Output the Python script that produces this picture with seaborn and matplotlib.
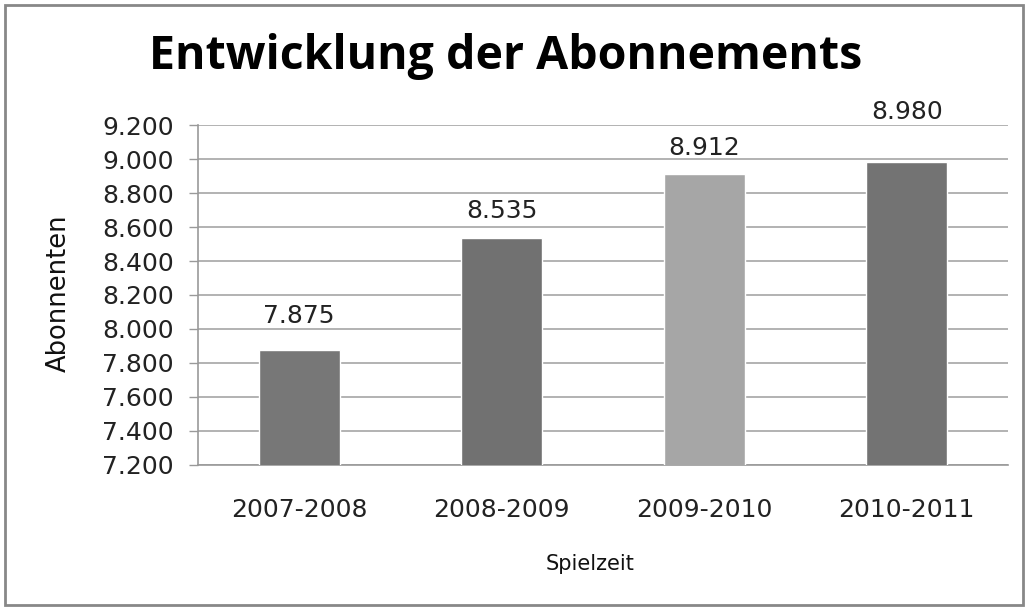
import matplotlib.pyplot as plt
import matplotlib.patches as mpatches
import seaborn as sns
import pandas as pd

# Daten
spielzeiten = ["2007-2008", "2008-2009", "2009-2010", "2010-2011"]
abonnenten = [7875, 8535, 8912, 8980]
balken_farben = ["#777777", "#717171", "#a6a6a6", "#737373"]
y_ticks = [7200, 7400, 7600, 7800, 8000, 8200, 8400, 8600, 8800, 9000, 9200]
# Abstand der Beschriftung über dem Balken (Punkte)
label_abstand = [16, 11, 10, 28]


def de_format(v):
    return f"{v:,}".replace(",", ".")


sns.set_theme(style="white")
plt.rcParams['font.family'] = ['DejaVu Sans']

df = pd.DataFrame({"Spielzeit": spielzeiten, "Abonnenten": abonnenten})

fig = plt.figure(figsize=(10.28, 6.09), dpi=100)
ax = fig.add_axes([0.1926, 0.2365, 0.7879, 0.5582])

sns.barplot(data=df, x="Spielzeit", y="Abonnenten", hue="Spielzeit",
            palette=balken_farben, width=0.4, legend=False, ax=ax,
            saturation=1, zorder=3)

ax.set_ylim(7200, 9200)
ax.set_yticks(y_ticks)
ax.set_yticklabels([de_format(v) for v in y_ticks], fontsize=18, color="#222222")
ax.set_xlim(-0.5, 3.5)
ax.tick_params(axis="x", length=0, pad=24, labelsize=18, labelcolor="#222222")
ax.tick_params(axis="y", length=6.5, width=1, color="#999999", direction="out",
               pad=11, left=True)

ax.yaxis.grid(True, color="#a6a6a6", linewidth=1.2, zorder=0)
ax.set_axisbelow(True)
for s in ["top", "right"]:
    ax.spines[s].set_visible(False)
for s in ["left", "bottom"]:
    ax.spines[s].set_color("#999999")
    ax.spines[s].set_linewidth(1.2)

for i, v in enumerate(abonnenten):
    ax.annotate(de_format(v), (i, v), xytext=(0, label_abstand[i]),
                textcoords="offset points", ha="center", va="bottom",
                fontsize=18, color="#222222")

ax.set_xlabel("Spielzeit", fontsize=15, color="#111111")
ax.xaxis.set_label_coords(0.484, -0.262)
ax.set_ylabel("Abonnenten", fontsize=18.5, color="#111111")
ax.yaxis.set_label_coords(-0.156, 0.506)

fig.suptitle("Entwicklung der Abonnements", x=0.492, y=0.945, fontsize=33.5,
             fontweight="bold", color="black",
             family=["Open Sans", "DejaVu Sans"])

# Rahmen um die Grafik
fig.patches.append(mpatches.Rectangle((0.005, 0.007), 0.99, 0.985,
                                      transform=fig.transFigure, fill=False,
                                      edgecolor="#888888", linewidth=2))

fig.savefig("out.png", dpi=100)
